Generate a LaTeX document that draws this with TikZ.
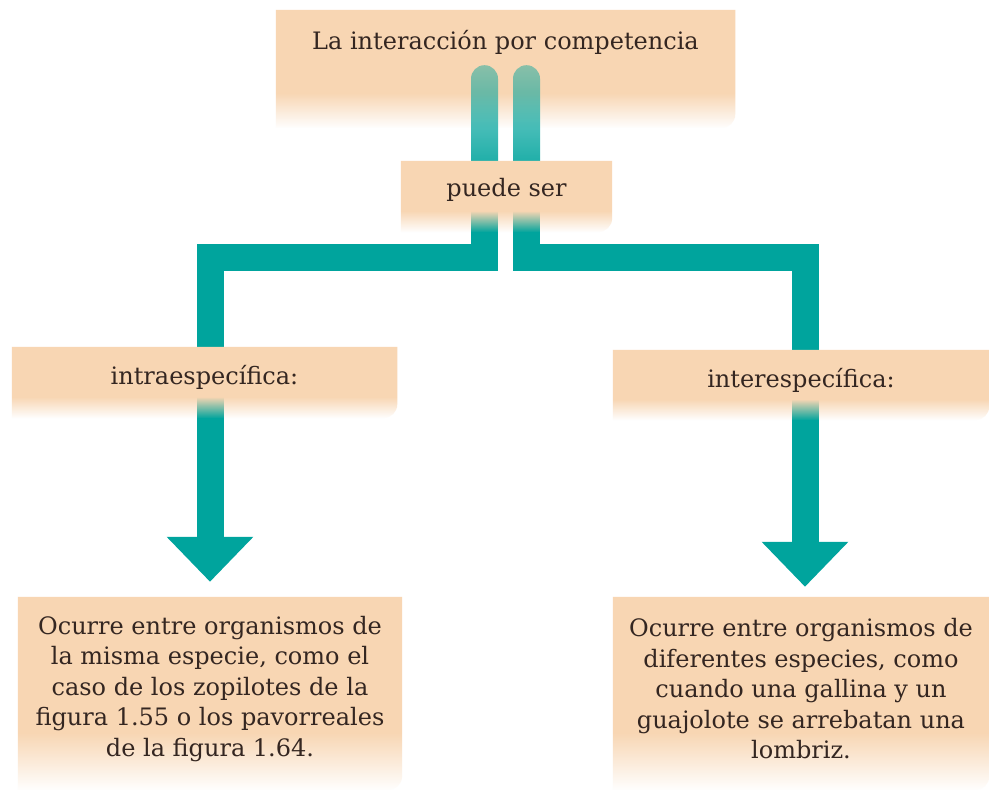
\documentclass[tikz,border=0pt]{standalone}
\usepackage{fontspec}
\setmainfont{DejaVu Serif}
\usetikzlibrary{arrows.meta,fadings}

\definecolor{peach}{RGB}{248,214,179}
\definecolor{barteal}{RGB}{0,164,157}
\definecolor{ink}{RGB}{52,38,33}

\pgfdeclarelayer{topbox}
\pgfdeclarelayer{bars}
\pgfdeclarelayer{boxes}
\pgfsetlayers{topbox,bars,boxes,main}

% fadings: bars fade in from the top, boxes fade out at the bottom
% (the path is fitted to the middle 50bp of the 100bp fading)
\tikzfading[name=barfade, top color=transparent!55, bottom color=transparent!0]
\pgfdeclareverticalshading{boxmask}{100bp}{color(0bp)=(black); color(25bp)=(black); color(40bp)=(white); color(100bp)=(white)}
\pgfdeclarefading{boxfade}{\pgfuseshading{boxmask}}

\begin{document}
\begin{tikzpicture}[
  x=1pt,y=1pt,
  font=\fontsize{24}{30.5}\selectfont,
  box/.style={text=ink, align=center, inner sep=0pt},
  boxfill/.style={fill=peach, path fading=boxfade},
  bar/.style={draw=barteal, line width=27pt},
  bartip/.style={-{Triangle[width=84pt,length=45pt]}},
  upbar/.style={fill=barteal, path fading=barfade, rounded corners=13.5pt}
]
\useasboundingbox (0,0) rectangle (989,796);

% Text boxes
\node[box, minimum width=459pt, minimum height=64pt] (top) at (505.5,754) {La interacción por competencia};
\node[box, minimum width=211pt, minimum height=58pt] (puede) at (506.5,606) {puede ser};
\node[box, minimum width=385pt, minimum height=60pt] (intra) at (204.5,419) {intraespecífica:};
\node[box, minimum width=376pt, minimum height=60pt] (inter) at (801,416) {interespecífica:};
\node[box, minimum width=384pt, minimum height=184pt] (intranote) at (210,107)
  {Ocurre entre organismos de\\la misma especie, como el\\caso de los zopilotes de la\\figura 1.55 o los pavorreales\\de la figura 1.64.};
\node[box, minimum width=376pt, minimum height=184pt] (internote) at (801,107)
  {Ocurre entre organismos de\\diferentes especies, como\\cuando una gallina y un\\guajolote se arrebatan una\\lombriz.};

% Box fills
\begin{pgfonlayer}{topbox}
  \fill[white] (0,0) rectangle (989,796);
  \fill[boxfill] (top.north west) -- (top.north east) -- ([yshift=-40pt]top.south east)
    arc[start angle=0, end angle=-90, radius=14pt] -- ([yshift=-54pt]top.south west) -- cycle;
\end{pgfonlayer}
\begin{pgfonlayer}{boxes}
  \fill[boxfill] (puede.north west) -- (puede.north east) -- ([yshift=1pt]puede.south east)
    arc[start angle=0, end angle=-90, radius=14pt] -- ([yshift=-13pt]puede.south west) -- cycle;
  \fill[boxfill] (intra.north west) -- (intra.north east) -- ([yshift=3pt]intra.south east)
    arc[start angle=0, end angle=-90, radius=14pt] -- ([yshift=-11pt]intra.south west) -- cycle;
  \fill[boxfill] (inter.north west) -- (inter.north east) -- ([yshift=4pt]inter.south east)
    arc[start angle=0, end angle=-90, radius=14pt] -- ([yshift=-10pt]inter.south west) -- cycle;
  \fill[boxfill] (intranote.north west) -- (intranote.north east) -- ([yshift=5pt]intranote.south east)
    arc[start angle=0, end angle=-90, radius=14pt] -- ([yshift=-9pt]intranote.south west) -- cycle;
  \fill[boxfill] (internote.north west) -- (internote.north east) -- ([yshift=5pt]internote.south east)
    arc[start angle=0, end angle=-90, radius=14pt] -- ([yshift=-9pt]internote.south west) -- cycle;
\end{pgfonlayer}

% Connectors
\begin{pgfonlayer}{bars}
  \fill[upbar] ([xshift=-34.5pt,yshift=9pt]top.south) rectangle ([xshift=-7.5pt]top.south |- puede.center);
  \fill[upbar] ([xshift=7.5pt,yshift=9pt]top.south) rectangle ([xshift=34.5pt]top.south |- puede.center);
  \draw[bar, bartip] ([xshift=-21pt]top.south |- puede.center) -- ++(0,-68) -| ([yshift=15pt]intranote.north);
  \draw[bar, bartip] ([xshift=21pt]top.south |- puede.center) -- ++(0,-68) -| ([xshift=4pt,yshift=10pt]internote.north);
\end{pgfonlayer}

\end{tikzpicture}
\end{document}
